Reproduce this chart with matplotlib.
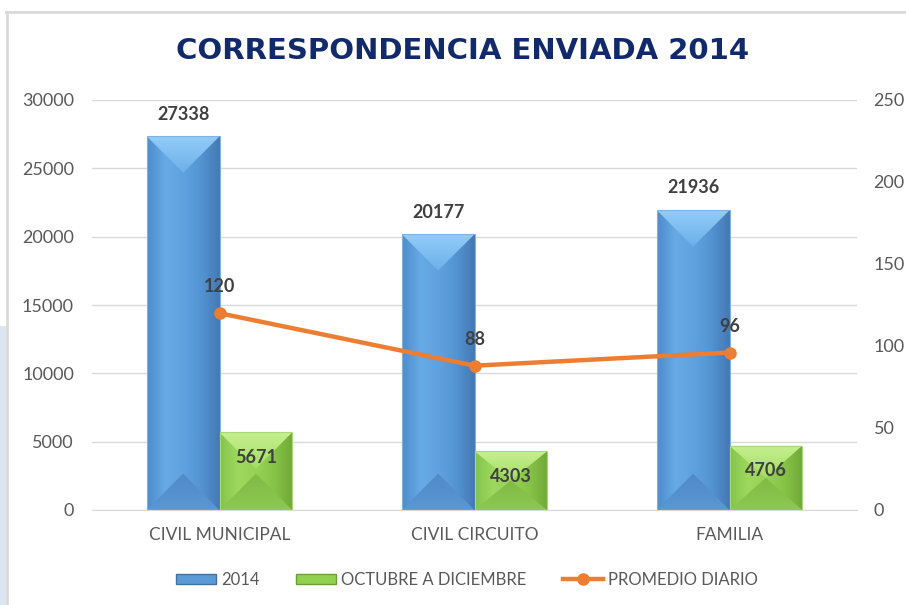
import numpy as np
import matplotlib
matplotlib.use('Agg')
import matplotlib.pyplot as plt
from matplotlib.colors import LinearSegmentedColormap
from matplotlib.patches import Polygon, Rectangle
from matplotlib.lines import Line2D

plt.rcParams['font.family'] = ['Lato', 'DejaVu Sans']

categorias = ['CIVIL MUNICIPAL', 'CIVIL CIRCUITO', 'FAMILIA']
total_2014 = [27338, 20177, 21936]
oct_dic = [5671, 4303, 4706]
promedio = [120, 88, 96]

gris = '#595959'
oscuro = '#404040'
naranja = '#ED7D31'

W, H = 906, 605
fig = plt.figure(figsize=(W / 100, H / 100), dpi=100)
fig.patch.set_facecolor('white')

# marco del grafico y franja azul a la izquierda
fig.patches.append(Rectangle((0, 0), 6 / W, 1 - 326 / H, transform=fig.transFigure,
                             facecolor='#DCE6F2', edgecolor='none', zorder=0))
fig.lines.append(Line2D([7 / W, 7 / W], [0, 1 - 12 / H], transform=fig.transFigure,
                        color='#D9D9D9', lw=2))
fig.lines.append(Line2D([6 / W, 1], [1 - 12 / H, 1 - 12 / H], transform=fig.transFigure,
                        color='#D9D9D9', lw=2))

ax = fig.add_axes([92 / W, 95 / H, 765 / W, 410 / H])
ax2 = ax.twinx()

x = np.arange(len(categorias))
ancho = 0.285
barras1 = ax.bar(x - ancho / 2, total_2014, ancho, color='#5B9BD5', zorder=2)
barras2 = ax.bar(x + ancho / 2, oct_dic, ancho, color='#92D050', zorder=2)

ax.set_xlim(-0.5, len(categorias) - 0.5)
ax.set_ylim(0, 30000)
ax.set_yticks(np.arange(0, 30001, 5000))
ax.set_xticks(x)
ax.set_xticklabels(categorias)

p0 = ax.transData.transform((0, 0))
p1 = ax.transData.transform((1, 1))
sx, sy = p1[0] - p0[0], p1[1] - p0[1]


def relleno(verts, colores, vertical, z):
    poly = Polygon(verts, closed=True, facecolor='none', edgecolor='none', zorder=z)
    ax.add_patch(poly)
    xs = [v[0] for v in verts]
    ys = [v[1] for v in verts]
    grad = np.linspace(0, 1, 256)
    grad = grad.reshape(-1, 1) if vertical else grad.reshape(1, -1)
    cmap = LinearSegmentedColormap.from_list('g', colores)
    im = ax.imshow(grad, extent=[min(xs), max(xs), min(ys), max(ys)], origin='lower',
                   aspect='auto', cmap=cmap, zorder=z, interpolation='bilinear')
    im.set_clip_path(poly)


def bisel(rect, cara, arriba, abajo, borde):
    x0, y0 = rect.get_x(), rect.get_y()
    bw, bh = rect.get_width(), rect.get_height()
    d = min(bw * sx / 2 / sy, bh / 2)
    xc = x0 + bw / 2
    relleno([(x0, y0), (x0 + bw, y0), (x0 + bw, y0 + bh), (x0, y0 + bh)], cara, False, 2.1)
    relleno([(x0, y0 + bh), (x0 + bw, y0 + bh), (xc, y0 + bh - d)], arriba, True, 2.2)
    relleno([(x0, y0), (x0 + bw, y0), (xc, y0 + d)], abajo, True, 2.2)
    rect.set_facecolor('none')
    rect.set_edgecolor(borde)
    rect.set_linewidth(0.8)
    rect.set_zorder(2.3)


for r in barras1:
    bisel(r, ['#4E8BCA', '#66AAE6', '#60A2DF', '#5393D1', '#4479B4'],
          ['#6CAFE9', '#92CDF7'], ['#5A97D5', '#5089C6'], '#7FB2E0')
for r in barras2:
    bisel(r, ['#84C44B', '#9ED95F', '#96D256', '#86C347', '#71A839'],
          ['#A4DC66', '#C6F08F'], ['#8DC951', '#80BB45'], '#A9D87A')

ax.set_xlim(-0.5, len(categorias) - 0.5)
ax.set_ylim(0, 30000)

for r, v in zip(barras1, total_2014):
    ax.annotate(str(v), (r.get_x() + r.get_width() / 2, v), xytext=(0, 16),
                textcoords='offset points', ha='center', va='center',
                fontsize=13, fontweight='bold', color=oscuro, zorder=5)
for r, v in zip(barras2, oct_dic):
    ax.annotate(str(v), (r.get_x() + r.get_width() / 2, v), xytext=(0, -18),
                textcoords='offset points', ha='center', va='center',
                fontsize=13, fontweight='bold', color=oscuro, zorder=5)

ax2.plot(x, promedio, color=naranja, lw=3.2, marker='o', markersize=8, zorder=4)
for xi, v in zip(x, promedio):
    ax2.annotate(str(v), (xi, v), xytext=(0, 19), textcoords='offset points',
                 ha='center', va='center', fontsize=13, fontweight='bold', color=oscuro)
ax2.set_ylim(0, 250)
ax2.set_yticks(np.arange(0, 251, 50))

ax.yaxis.grid(True, color='#D9D9D9', lw=1)
ax.set_axisbelow(True)
for a in (ax, ax2):
    for s in a.spines.values():
        s.set_visible(False)
ax.spines['bottom'].set_visible(True)
ax.spines['bottom'].set_color('#D9D9D9')

ax.tick_params(axis='y', length=0, labelsize=13, colors=gris, pad=13)
ax.tick_params(axis='x', length=0, labelsize=12.5, colors=gris, pad=12)
ax2.tick_params(axis='y', length=0, labelsize=13, colors=gris, pad=12)

fig.text(463 / W, 1 - 51 / H, 'CORRESPONDENCIA ENVIADA 2014', ha='center', va='center',
         fontsize=21, fontweight='bold', color='#112A6B', family='DejaVu Sans')

manejadores = [Rectangle((0, 0), 1, 1, facecolor='#5B9BD5', edgecolor='#41719C'),
               Rectangle((0, 0), 1, 1, facecolor='#92D050', edgecolor='#6A9F35'),
               Line2D([0], [0], color=naranja, lw=3.2, marker='o', markersize=8)]
fig.legend(manejadores, ['2014', 'OCTUBRE A DICIEMBRE', 'PROMEDIO DIARIO'],
           loc='center', bbox_to_anchor=(467 / W, 1 - 580 / H), ncol=3, frameon=False,
           fontsize=12, labelcolor=gris, handlelength=2.4, handleheight=0.6,
           handletextpad=0.3, columnspacing=2.2)

fig.savefig('out.png', dpi=100, facecolor='white')
